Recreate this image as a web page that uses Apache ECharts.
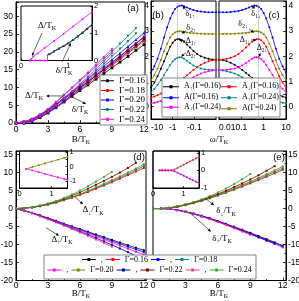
<!DOCTYPE html>
<html>
<head>
<meta charset="utf-8">
<script src="https://cdn.jsdelivr.net/npm/echarts@6.0.0/dist/echarts.min.js"></script>
<style>html,body{margin:0;padding:0;background:#fff;}#chart{width:299px;height:301px;}</style>
</head>
<body>
<div id="chart"></div>
<script>
// ================= DATA =================
const B = [0,0.75,1.5,2.25,3,3.75,4.5,5.25,6,6.75,7.5,8.25,9,9.75,10.5,11.25,12];
const gammas = ['Γ=0.16','Γ=0.18','Γ=0.20','Γ=0.22','Γ=0.24'];

// panel (a): Δ/T_K (upper) and δ/T_K (lower) vs B/T_K
const aDelta16 = [0,0.3,1.0,2.1,3.5,5.1,6.7,8.3,10.0,11.6,13.3,15.0,16.6,18.3,20.0,21.7,23.4];
const adelta16 = [0,0,0.6,1.5,2.8,4.3,5.9,7.5,9.1,10.7,12.3,13.9,15.5,17.1,18.7,20.4,22.0];
const aDelta18 = [0,0.3,1.0,2.1,3.6,5.2,6.9,8.6,10.3,12.0,13.7,15.4,17.1,18.8,20.6,22.4,24.2];
const adelta18 = [0,0,0.6,1.6,2.9,4.4,6.0,7.7,9.4,11.1,12.8,14.5,16.2,17.9,19.6,21.3,23.0];
const aDelta20 = [0,0.3,1.0,2.2,3.7,5.3,7.1,8.8,10.6,12.4,14.2,16.0,17.8,19.6,21.5,23.4,25.3];
const adelta20 = [0,0,0.6,1.6,3.0,4.5,6.2,7.9,9.7,11.5,13.3,15.1,16.9,18.7,20.5,22.3,24.1];
const aDelta22 = [0,0.3,1.1,2.3,3.8,5.8,7.8,9.8,11.8,13.8,15.9,18.0,20.1,22.2,24.4,26.6];
const adelta22 = [0,0,0.6,1.7,3.1,4.9,6.8,8.7,10.6,12.6,14.6,16.6,18.7,20.8,22.9,25.1];
const aDelta24 = [0,0.3,1.1,2.4,3.9,5.9,7.9,10.0,12.1,14.2,16.4,18.6,20.8];
const adelta24 = [0,0,0.7,1.8,3.2,5.0,6.9,8.9,11.0,13.1,15.2,17.4,19.6];

// inset of (a)
const iaX_D  = [0.19,0.22,0.26,0.35,0.5,0.7,0.9,1.1,1.3,1.5];
const iaDelta= [0,0.06,0.14,0.26,0.46,0.72,0.98,1.25,1.52,1.78];
const iaX_d  = [0.19,0.3,0.4,0.5,0.56,0.56,0.6,0.7,0.8,0.9,1.0,1.1,1.2,1.3,1.4,1.5];
const iadelta24 = [0,0,0,0,0,0.2,0.24,0.34,0.44,0.54,0.64,0.76,0.89,1.03,1.18,1.33];
const iaX_d2 = [0.6,0.7,0.8,0.9,1.0,1.1,1.2,1.3,1.4,1.5];
const iadelta16 = [0.23,0.33,0.43,0.53,0.63,0.75,0.88,1.01,1.16,1.31];
const iadelta22 = [0.24,0.34,0.44,0.54,0.64,0.76,0.89,1.03,1.18,1.33];

// panels (b),(c): spectral functions vs |ω|/T_K
const W = [10,7,5,3.5,2.5,1.8,1.3,1,0.78,0.6,0.48,0.38,0.3,0.22,0.16,0.11,0.075,0.05,0.033,0.022,0.015,0.01];
const Aup16 = [0.75,0.95,1.2,1.5,1.8,2.1,2.38,2.54,2.64,2.69,2.68,2.64,2.58,2.47,2.35,2.21,2.09,2.0,1.94,1.9,1.87,1.86];
const Adn16 = [0.35,0.4,0.45,0.52,0.6,0.68,0.76,0.83,0.9,0.96,1.02,1.08,1.14,1.24,1.34,1.45,1.56,1.66,1.74,1.8,1.84,1.86];
const Atot16= [1.35,1.6,1.9,2.3,2.75,3.15,3.5,3.72,3.88,3.97,4.01,4.02,3.99,3.94,3.89,3.84,3.8,3.78,3.76,3.75,3.75,3.75];
const Aup24 = [0.55,0.7,0.85,1.05,1.25,1.45,1.65,1.79,1.88,1.94,1.96,1.95,1.9,1.82,1.73,1.63,1.56,1.51,1.48,1.46,1.45,1.45];
const Adn24 = [0.12,0.15,0.18,0.22,0.27,0.33,0.4,0.47,0.55,0.63,0.71,0.8,0.88,0.98,1.07,1.16,1.24,1.31,1.36,1.4,1.43,1.45];
const Atot24= [1.05,1.25,1.5,1.85,2.2,2.5,2.75,2.88,2.95,2.99,3.0,2.99,2.97,2.95,2.93,2.92,2.91,2.9,2.89,2.89,2.89,2.89];
const peakW = [0.6, 0.58];

// panel (d): Δ↑ (negative) and Δ↓ (positive)
const dL16 = [0,-0.55,-1.2,-1.9,-2.65,-3.4,-4.2,-4.95,-5.7,-6.45,-7.2,-7.95,-8.7,-9.45,-10.2,-10.9,-11.6];
const dU16 = [0,0.1,0.3,0.65,1.1,1.65,2.3,3.0,3.8,4.6,5.5,6.4,7.3,8.3,9.3,10.3,11.3];
const dL18 = [0,-0.55,-1.2,-1.95,-2.7,-3.5,-4.3,-5.1,-5.9,-6.65,-7.45,-8.25,-9.05,-9.8,-10.6,-11.35,-12.1];
const dU18 = [0,0.1,0.3,0.7,1.15,1.7,2.4,3.1,3.9,4.8,5.7,6.6,7.6,8.6,9.6,10.7,11.8];
const dL20 = [0,-0.55,-1.25,-2.0,-2.8,-3.6,-4.45,-5.25,-6.1,-6.95,-7.8,-8.6,-9.45,-10.3,-11.15,-12.0,-12.8];
const dU20 = [0,0.1,0.35,0.7,1.2,1.8,2.5,3.2,4.0,4.9,5.9,6.9,7.9,8.9,10.0,11.1,12.3];
const dL22 = [0,-0.6,-1.3,-2.1,-2.9,-3.75,-4.6,-5.5,-6.4,-7.3,-8.2,-9.15,-10.1,-11.1,-12.1,-13.2];
const dU22 = [0,0.1,0.35,0.75,1.3,1.95,2.7,3.6,4.5,5.5,6.6,7.7,8.8,10.0,11.3,12.7];
const dL24 = [0,-0.6,-1.3,-2.15,-3.0,-3.85,-4.75,-5.7,-6.65,-7.6,-8.6,-9.6,-10.6];
const dU24 = [0,0.1,0.4,0.85,1.4,2.1,2.95,3.9,5.0,6.2,7.5,8.8,10.2];
// inset of (d)
const idX  = [0.21,0.4,0.6,0.8,1.0,1.2,1.4,1.5];
const idUp = [-0.15,-0.03,0.1,0.23,0.36,0.49,0.62,0.69];
const idLo = [-0.15,-0.27,-0.39,-0.51,-0.63,-0.75,-0.87,-0.93];

// panel (e): δ↑ (negative) and δ↓ (positive)
const eL16 = [0,0,-0.1,-0.4,-0.85,-1.4,-2.0,-2.7,-3.45,-4.25,-5.05,-5.9,-6.75,-7.6,-8.5,-9.4,-10.3];
const eU16 = [0,0,0.15,0.5,0.95,1.5,2.15,2.85,3.6,4.4,5.25,6.1,7.0,7.9,8.85,9.8,10.8];
const eL18 = [0,0,-0.1,-0.4,-0.9,-1.45,-2.1,-2.8,-3.55,-4.35,-5.2,-6.05,-6.9,-7.8,-8.7,-9.6,-10.5];
const eU18 = [0,0,0.15,0.5,1.0,1.55,2.2,2.95,3.75,4.55,5.45,6.35,7.25,8.2,9.2,10.2,11.2];
const eL20 = [0,0,-0.1,-0.45,-0.9,-1.5,-2.15,-2.85,-3.6,-4.45,-5.3,-6.15,-7.05,-7.95,-8.9,-9.8,-10.8];
const eU20 = [0,0,0.2,0.55,1.05,1.6,2.3,3.05,3.85,4.7,5.6,6.55,7.5,8.5,9.55,10.6,11.7];
const eL22 = [0,0,-0.1,-0.45,-0.95,-1.5,-2.15,-2.9,-3.65,-4.5,-5.35,-6.2,-7.1,-8.0,-8.85,-9.7];
const eU22 = [0,0,0.2,0.55,1.1,1.7,2.4,3.2,4.05,4.95,5.95,7.0,8.1,9.25,10.5,11.8];
const eL24 = [0,0,-0.1,-0.45,-0.95,-1.55,-2.2,-2.95,-3.75,-4.6,-5.5,-6.4,-7.3];
const eU24 = [0,0,0.2,0.6,1.15,1.8,2.55,3.45,4.45,5.55,6.8,8.15,9.6];
// inset of (e)
const ieX  = [0.21,0.3,0.4,0.5,0.6,0.7,0.8,0.9,1.0,1.1,1.2,1.3,1.4,1.5];
const ieUp = [0,0,0,0,0,0.05,0.14,0.23,0.32,0.41,0.5,0.59,0.68,0.77];
const ieLo = [0,0,0,0,0,-0.05,-0.13,-0.22,-0.3,-0.39,-0.47,-0.56,-0.64,-0.72];

// ================= CHART =================
const SERIF = "'Liberation Serif','Times New Roman',Times,serif";
const SANS = "'Liberation Sans Narrow','Liberation Sans',Arial,sans-serif";
const zip = (xs, ys) => ys.map((y, i) => [xs[i], y]);
const intFmt = v => Math.abs(v - Math.round(v)) < 1e-6 ? String(Math.round(v)) : '';
const logLab = {'-2':'0.01','-1':'0.1','0':'1','1':'10'};
const bFmt = v => '-' + logLab[String(Math.round(Math.log10(v)))];
const cFmt = v => logLab[String(Math.round(Math.log10(v)))];

function ax(o) {
  const a = {
    type: o.type || 'value', gridIndex: o.grid, min: o.min, max: o.max,
    axisLine: {show: true, onZero: false, lineStyle: {color: '#000', width: 1}},
    axisTick: {show: true, inside: true, length: o.tickLen || 3, lineStyle: {color: '#000', width: 0.8}},
    minorTick: {show: !!o.minor, splitNumber: o.minor || 2, length: 1.6, lineStyle: {color: '#000', width: 0.7}},
    splitLine: {show: false}, minorSplitLine: {show: false},
    axisLabel: Object.assign({color: '#000', fontFamily: SANS, fontSize: 8.5, margin: 3}, o.label || {})
  };
  if (o.interval != null) a.interval = o.interval;
  if (o.position) a.position = o.position;
  if (o.inverse) a.inverse = true;
  return a;
}
function ln(name, gi, data, color, sym, size) {
  return {type: 'line', name, xAxisIndex: gi, yAxisIndex: gi, data,
    symbol: sym || 'rect', symbolSize: size || 2.2, showSymbol: true, showAllSymbol: true,
    color, lineStyle: {color, width: 0.8}, itemStyle: {color, borderWidth: 0},
    emphasis: {disabled: true}, animation: false, silent: true, z: 2};
}

const grids = [
  {left: 16, top: 2, width: 129, height: 121},
  {left: 21, top: 6, width: 71, height: 54.5},
  {left: 151, top: 1, width: 65, height: 118},
  {left: 219, top: 1, width: 67, height: 118},
  {left: 16, top: 151, width: 130, height: 129.5},
  {left: 19.5, top: 151, width: 48, height: 37},
  {left: 153, top: 151, width: 133, height: 129.5},
  {left: 153, top: 151, width: 46, height: 37}
].map(g => Object.assign(g, {show: true, borderColor: '#000', borderWidth: 1, backgroundColor: 'transparent', containLabel: false, outerBoundsMode: 'none'}));

const xAxes = [
  ax({grid: 0, min: 0, max: 12.1, interval: 3, minor: 2, label: {formatter: intFmt, margin: 2.5}}),
  ax({grid: 1, min: 0, max: 1.5, interval: 1, tickLen: 2, label: {formatter: intFmt, fontSize: 7.5, margin: 1.5}}),
  ax({grid: 2, type: 'log', min: 0.01, max: 10, inverse: true, label: {formatter: bFmt, margin: 4.5, alignMinLabel: 'right', alignMaxLabel: 'left'}}),
  ax({grid: 3, type: 'log', min: 0.01, max: 10, label: {formatter: cFmt, margin: 4.5, alignMinLabel: 'left'}}),
  ax({grid: 4, min: 0, max: 12.2, interval: 3, minor: 2, label: {formatter: intFmt, margin: 1}}),
  ax({grid: 5, min: 0, max: 1.5, interval: 1, tickLen: 2, label: {formatter: intFmt, fontSize: 7.5, margin: 1.5}}),
  ax({grid: 6, min: 0, max: 12.3, interval: 3, minor: 2, label: {formatter: intFmt, margin: 1}}),
  ax({grid: 7, min: 0, max: 1.5, interval: 1, tickLen: 2, label: {formatter: intFmt, fontSize: 7.5, margin: 1.5}})
];
const yAxes = [
  ax({grid: 0, min: 0, max: 34, interval: 5, minor: 2, label: {formatter: intFmt, showMaxLabel: false}}),
  ax({grid: 1, min: 0, max: 2, interval: 1, position: 'right', tickLen: 2, label: {formatter: intFmt, fontSize: 7.5, margin: 2}}),
  ax({grid: 2, min: -0.5, max: 4.2, interval: 0.5, label: {formatter: intFmt, margin: 2}}),
  ax({grid: 3, min: -0.5, max: 4.2, interval: 0.5, position: 'right', label: {formatter: intFmt, margin: 2.5}}),
  ax({grid: 4, min: -20, max: 16, interval: 5, minor: 2, label: {formatter: intFmt, showMaxLabel: false, margin: 3}}),
  ax({grid: 5, min: -1.5, max: 1.1, interval: 0.5, position: 'right', tickLen: 2, label: {formatter: intFmt, fontSize: 7.5, margin: 2}}),
  ax({grid: 6, min: -20, max: 16, interval: 5, minor: 2, position: 'right', label: {formatter: intFmt, showMaxLabel: false, margin: 2}}),
  ax({grid: 7, min: -1, max: 1.1, interval: 1, position: 'right', tickLen: 2, label: {formatter: intFmt, fontSize: 7.5, margin: 2}})
];

const series = [];
// (a)
const downTri = 'path://M0,0L2,0L1,2Z';
[[aDelta16, adelta16, '#000000', 'rect'], [aDelta18, adelta18, '#ff0000', 'circle'],
 [aDelta20, adelta20, '#0000ff', 'triangle'], [aDelta22, adelta22, '#008080', downTri],
 [aDelta24, adelta24, '#ff00ff', 'diamond']].forEach((s, i) => {
  series.push(ln(gammas[i], 0, zip(B, s[0]), s[2], s[3], 2.8));
  series.push(ln(gammas[i], 0, zip(B, s[1]), s[2], s[3], 2.8));
});
// inset (a)
series.push(ln('ia1', 1, zip(iaX_d, iadelta24), '#ff00ff', 'circle', 1.8));
series.push(ln('ia2', 1, zip(iaX_d2, iadelta16), '#000000', 'rect', 1.8));
series.push(ln('ia3', 1, zip(iaX_d2, iadelta22), '#008080', 'circle', 1.8));
series.push(ln('ia4', 1, zip(iaX_D, iaDelta), '#ff00ff', 'circle', 1.8));
// (b) and (c)
const bcColors = {'A↑16': '#000000', 'A↓16': '#ff0000', 'A16': '#0000ff', 'A↑24': '#008080', 'A↓24': '#ff00ff', 'A24': '#808000'};
const bData = {'A↑16': Aup16, 'A↓16': Adn16, 'A16': Atot16, 'A↑24': Aup24, 'A↓24': Adn24, 'A24': Atot24};
const cData = {'A↑16': Adn16, 'A↓16': Aup16, 'A16': Atot16, 'A↑24': Adn24, 'A↓24': Aup24, 'A24': Atot24};
['A↑16', 'A↓16', 'A16', 'A↑24', 'A↓24', 'A24'].forEach((n, i) => {
  const sb = ln(n, 2, zip(W, bData[n]), bcColors[n], 'circle', 2);
  const sc = ln(n, 3, zip(W, cData[n]), bcColors[n], 'circle', 2);
  if (i === 0) {
    const ml = v => ({silent: true, symbol: ['none', 'none'], label: {show: false}, animation: false,
      lineStyle: {type: 'dotted', color: '#888', width: 0.8}, data: [{xAxis: v}]});
    sb.markLine = ml(peakW[0]);
    sc.markLine = ml(peakW[1]);
  }
  series.push(sb, sc);
});
// (d) and (e)
const deSets = [
  ['16', dL16, dU16, eL16, eU16, '#000000', '#ff0000'],
  ['18', dL18, dU18, eL18, eU18, '#0000ff', '#008080'],
  ['20', dL20, dU20, eL20, eU20, '#ff00ff', '#808000'],
  ['22', dL22, dU22, eL22, eU22, '#0000a0', '#800000'],
  ['24', dL24, dU24, eL24, eU24, '#ff3399', '#33aa33']
];
deSets.forEach(s => {
  series.push(ln('L' + s[0], 4, zip(B, s[1]), s[5], 'rect', 2));
  series.push(ln('U' + s[0], 4, zip(B, s[2]), s[6], 'rect', 2));
});
deSets.forEach(s => {
  series.push(ln('L' + s[0], 6, zip(B, s[3]), s[5], 'rect', 2));
  series.push(ln('U' + s[0], 6, zip(B, s[4]), s[6], 'rect', 2));
});
// insets (d),(e)
series.push(ln('id1', 5, zip(idX, idUp), '#808000', 'rect', 1.6));
series.push(ln('id2', 5, zip(idX, idLo), '#ff00ff', 'rect', 1.6));
series.push(ln('ie1', 7, zip(ieX, ieUp), '#d03030', 'rect', 1.6));
series.push(ln('ie2', 7, zip(ieX, ieLo), '#c000c0', 'rect', 1.6));

const RL = {m: {fontFamily: SERIF, fontSize: 8, lineHeight: 9.5, verticalAlign: 'top', color: '#000'},
            s: {fontFamily: SERIF, fontSize: 5.5, verticalAlign: 'bottom', color: '#000'}};
const bcFmt = n => {
  const a = n.charAt(1), g = n.slice(-2);
  return (a === '↑' || a === '↓') ? '{m|A}{s|' + a + '}{m|(Γ=0.' + g + ')}' : '{m|A(Γ=0.' + g + ')}';
};
const deFmt = n => n.charAt(0) === 'L' ? ',' : 'Γ=0.' + n.slice(1);
// legend sample: thin line with a small square marker in the middle
const lineIcon = 'path://M0,2.4L8,2.4L8,1.2L12,1.2L12,2.4L20,2.4L20,3.6L12,3.6L12,4.8L8,4.8L8,3.6L0,3.6Z';
const legBase = {selectedMode: false, itemHeight: 3, padding: 0, z: 5, icon: lineIcon, symbolKeepAspect: false,
  itemStyle: {borderWidth: 0}};

const option = {
  backgroundColor: '#fff',
  animation: false,
  grid: grids, xAxis: xAxes, yAxis: yAxes, series,
  legend: [
    Object.assign({}, legBase, {data: gammas, orient: 'vertical', left: 100, top: 75, itemWidth: 13, itemGap: 0,
      padding: [1, 2, 1, 1], backgroundColor: '#fff', borderColor: '#666', borderWidth: 0.8,
      textStyle: {fontFamily: SERIF, fontSize: 9, color: '#000', lineHeight: 9.6}}),
    Object.assign({}, legBase, {data: ['A↑16', 'A16', 'A↓24'], orient: 'vertical', left: 163, top: 82, itemWidth: 16, itemGap: 1.5,
      formatter: bcFmt, textStyle: {rich: RL, fontFamily: SERIF, fontSize: 8, color: '#000'}}),
    Object.assign({}, legBase, {data: ['A↓16', 'A↑24', 'A24'], orient: 'vertical', left: 221, top: 82, itemWidth: 16, itemGap: 1.5,
      formatter: bcFmt, textStyle: {rich: RL, fontFamily: SERIF, fontSize: 8, color: '#000'}}),
    Object.assign({}, legBase, {data: ['L16', 'U16', 'L18', 'U18'], orient: 'horizontal', left: 'center', top: 255.5, itemWidth: 14, itemGap: 3,
      formatter: deFmt, textStyle: {fontFamily: SERIF, fontSize: 8, color: '#000'}}),
    Object.assign({}, legBase, {data: ['L20', 'U20', 'L22', 'U22', 'L24', 'U24'], orient: 'horizontal', left: 'center', top: 266, itemWidth: 14, itemGap: 3,
      formatter: deFmt, textStyle: {fontFamily: SERIF, fontSize: 8, color: '#000'}})
  ]
};

const chart = echarts.init(document.getElementById('chart'), null, {renderer: 'canvas', devicePixelRatio: 1});
chart.setOption(option);

// ---------- annotations (anchored in data coordinates) ----------
const notes = [
  [0, 1.69, 7.6, '{m|Δ/T}{s|K}', 9, 6],
  [0, 6.0, 3.65, '{m|δ/T}{s|K}', 9, 6],
  [1, 0.55, 1.27, '{m|Δ/T}{s|K}', 9, 6],
  [1, 0.908, -0.385, '{m|δ/T}{s|K}', 9, 6],
  [2, 0.158, 3.64, '{m|δ}{s|1↑}', 8, 5.5],
  [2, 0.1426, 3.105, '{m|δ}{s|2↑}', 8, 5.5],
  [2, 0.1426, 2.567, '{m|Δ}{s|1↑}', 8, 5.5],
  [2, 0.1426, 2.049, '{m|Δ}{s|2↑}', 8, 5.5],
  [3, 0.454, 3.64, '{m|δ}{s|1↓}', 8, 5.5],
  [3, 0.1188, 3.244, '{m|δ}{s|2↓}', 8, 5.5],
  [3, 0.146, 2.607, '{m|Δ}{s|1↓}', 8, 5.5],
  [3, 0.842, 2.288, '{m|Δ}{s|2↓}', 8, 5.5],
  [4, 7.23, -0.62, '{m|Δ}{s|↓}{m|/T}{s|K}', 9, 6],
  [4, 4.32, -8.92, '{m|Δ}{s|↑}{m|/T}{s|K}', 9, 6],
  [6, 6.75, -0.89, '{m|δ}{s|↓}{m|/T}{s|K}', 9, 6],
  [6, 6.38, -8.51, '{m|δ}{s|↑}{m|/T}{s|K}', 9, 6]
];
const arrows = [
  [0, 4.5, 7.6, 2.81, 7.6],
  [0, 5.2, 7.4, 6.57, 5.34],
  [1, 0.444, 1.01, 0.232, 0.165],
  [1, 0.866, -0.055, 1.056, 0.642],
  [2, 0.243, 3.84, 0.352, 4.0],
  [2, 0.243, 3.005, 0.391, 2.906],
  [2, 0.256, 2.607, 0.51, 2.647],
  [2, 0.243, 2.129, 0.412, 1.99],
  [3, 0.30, 3.86, 0.41, 4.02],
  [3, 0.22, 3.085, 0.369, 2.945],
  [3, 0.271, 2.647, 0.478, 2.647],
  [3, 0.76, 2.129, 0.587, 1.969],
  [4, 5.54, 3.26, 6.29, 1.18],
  [4, 2.82, -5.32, 4.04, -7.54],
  [6, 4.81, 2.9, 5.64, 0.91],
  [6, 3.42, -1.17, 5.36, -6.43]
];
const P = (g, x, y) => chart.convertToPixel({gridIndex: g}, [x, y]);
const rich = (fs, sfs) => ({m: {fontFamily: SERIF, fontSize: fs, lineHeight: fs + 1.5, verticalAlign: 'top', fill: '#000'},
                           s: {fontFamily: SERIF, fontSize: sfs, verticalAlign: 'bottom', fill: '#000'}});
const txt = (x, y, text, fs, sfs) => ({type: 'text', x, y, z: 20, silent: true,
  style: {text, rich: rich(fs, sfs), align: 'center', verticalAlign: 'middle', fill: '#000', fontFamily: SERIF, fontSize: fs}});
const plain = (x, y, text) => ({type: 'text', x, y, z: 20, silent: true,
  style: {text, align: 'center', verticalAlign: 'middle', fill: '#000', fontFamily: "'Liberation Sans',Arial,sans-serif", fontSize: 9.5}});

const els = [];
els.push({type: 'rect', z: 3, silent: true, shape: {x: 162, y: 78, width: 118, height: 39}, style: {fill: '#fff', stroke: '#666', lineWidth: 0.8}});
els.push({type: 'rect', z: 3, silent: true, shape: {x: 44, y: 255, width: 212, height: 24}, style: {fill: '#fff', stroke: '#666', lineWidth: 0.8}});
notes.forEach(n => { const p = P(n[0], n[1], n[2]); els.push(txt(p[0], p[1], n[3], n[4], n[5])); });
arrows.forEach(a => {
  const p0 = P(a[0], a[1], a[2]), p1 = P(a[0], a[3], a[4]);
  const dx = p1[0] - p0[0], dy = p1[1] - p0[1], L = Math.hypot(dx, dy) || 1, ux = dx / L, uy = dy / L;
  const hl = 3.2, hw = 1.5, bx = p1[0] - ux * hl, by = p1[1] - uy * hl;
  els.push({type: 'line', z: 20, silent: true, shape: {x1: p0[0], y1: p0[1], x2: bx, y2: by}, style: {stroke: '#000', lineWidth: 0.6}});
  els.push({type: 'polygon', z: 20, silent: true, shape: {points: [[p1[0], p1[1]], [bx - uy * hw, by + ux * hw], [bx + uy * hw, by - ux * hw]]}, style: {fill: '#000'}});
});
// panel tags and axis titles
els.push(plain(133, 8.5, '(a)'), plain(158, 15, '(b)'), plain(274, 15, '(c)'), plain(139, 157.5, '(d)'), plain(279, 157.5, '(e)'));
els.push(txt(81, 140, '{m|B/T}{s|K}', 9, 6), txt(219, 140.5, '{m|ω/T}{s|K}', 9, 6),
         txt(81, 294, '{m|B/T}{s|K}', 9, 6), txt(219, 294, '{m|B/T}{s|K}', 9, 6));
chart.setOption({graphic: {elements: els}});
</script>
</body>
</html>
